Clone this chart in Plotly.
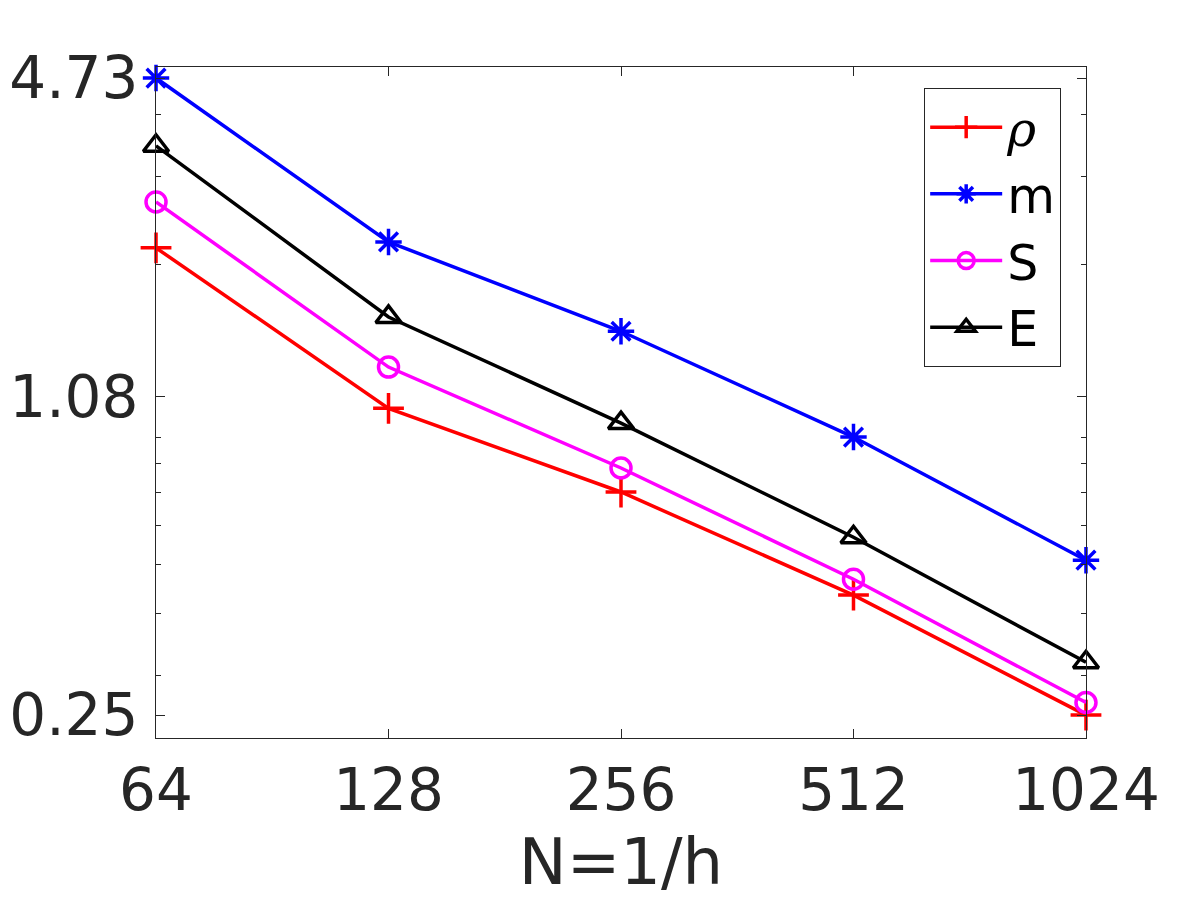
import plotly.graph_objects as go

# grid sizes N = 1/h
N = [64, 128, 256, 512, 1024]

# error values
rho = [2.16, 1.03, 0.70, 0.435, 0.25]
m = [4.73, 2.22, 1.47, 0.902, 0.511]
S = [2.67, 1.246, 0.782, 0.468, 0.265]
E = [3.46, 1.57, 0.962, 0.568, 0.319]

y_ticks = [4.73, 1.087, 0.25]
y_ticktext = ["4.73", "1.08", "0.25"]
y_minor = [4, 3, 2, 0.9, 0.8, 0.7, 0.6, 0.5, 0.4, 0.3]

series = [
    ('<span style="font-family:DejaVu Serif"><i>ρ</i></span>', rho, "#ff0000", "cross-thin-open", 22),
    ("m", m, "#0000ff", "asterisk-open", 22),
    ("S", S, "#ff00ff", "circle-open", 20),
    ("E", E, "#000000", "triangle-up-open", 22),
]

fig = go.Figure()
for name, vals, color, symbol, size in series:
    fig.add_trace(go.Scatter(
        x=N, y=vals, name=name, mode="lines+markers",
        line=dict(color=color, width=3.5),
        marker=dict(symbol=symbol, size=size, color=color,
                    line=dict(color=color, width=3.5)),
        cliponaxis=False,
    ))

axis_col = "#262626"
fig.update_xaxes(
    type="log", range=[1.80615, 3.01032], automargin=False,
    tickmode="array", tickvals=N, ticktext=[str(n) for n in N],
    ticks="inside", ticklen=9, tickcolor=axis_col, tickwidth=1,
    showline=True, linecolor=axis_col, linewidth=1, mirror="ticks",
    showgrid=False, zeroline=False,
    tickfont=dict(size=58, color=axis_col), ticklabelstandoff=1,
    title=dict(text="N=1/h", font=dict(size=64, color=axis_col), standoff=16),
)
fig.update_yaxes(
    type="log", range=[-0.648, 0.697], automargin=False,
    tickmode="array", tickvals=y_ticks, ticktext=y_ticktext,
    ticks="inside", ticklen=9, tickcolor=axis_col, tickwidth=1,
    minor=dict(tickmode="array", tickvals=y_minor, ticks="inside",
               ticklen=5, tickcolor=axis_col, tickwidth=1, showgrid=False),
    showline=True, linecolor=axis_col, linewidth=1, mirror="ticks",
    showgrid=False, zeroline=False,
    tickfont=dict(size=58, color=axis_col), ticklabelstandoff=5,
)

fig.update_layout(
    width=1200, height=900,
    margin=dict(l=148, r=122, t=59, b=170),
    paper_bgcolor="white", plot_bgcolor="white",
    font=dict(family="DejaVu Sans", color=axis_col),
    legend=dict(
        x=0.826, y=0.969, xanchor="left", yanchor="top",
        bgcolor="white", bordercolor=axis_col, borderwidth=1,
        font=dict(size=49, color="black"),
        itemwidth=72,
    ),
)

fig.write_html("out.html")
